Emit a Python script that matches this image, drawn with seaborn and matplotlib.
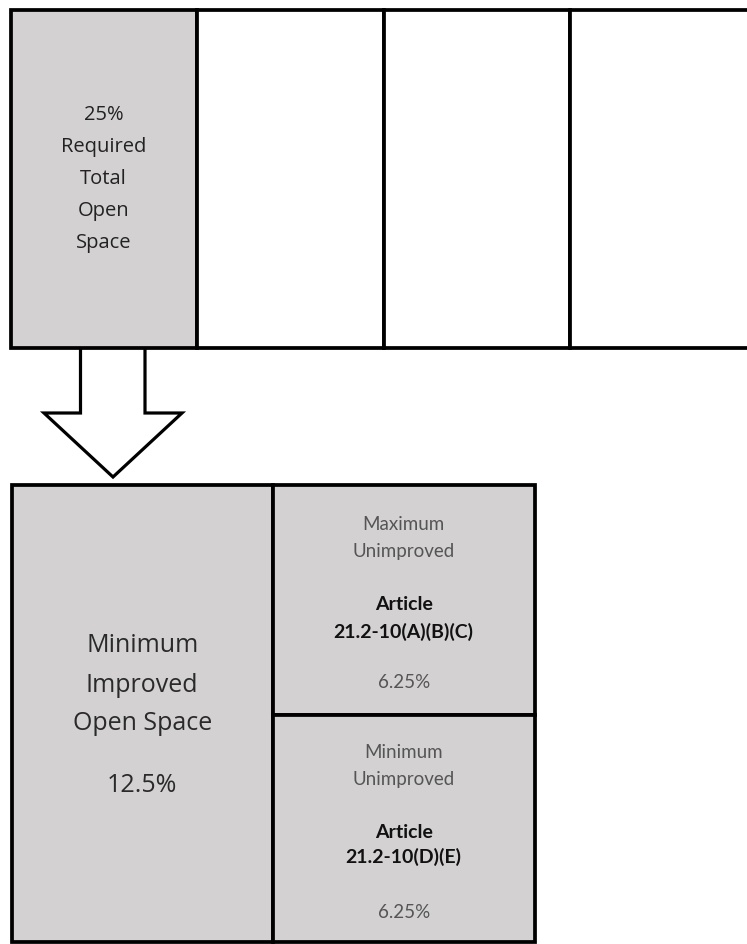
import seaborn as sns
import matplotlib.pyplot as plt
from matplotlib.patches import Polygon

# --- data: the open space split shown in the diagram ---
top_shares = [25, 25, 25, 25]                 # top row, four equal quarters of the lot
top_fill = [True, False, False, False]        # only the first quarter is the required open space
top_label = ["25%", "Required", "Total", "Open", "Space"]

improved_label = ["Minimum", "Improved", "Open Space"]
improved_value = "12.5%"

sub_titles = [["Maximum", "Unimproved"], ["Minimum", "Unimproved"]]
sub_articles = [["Article", "21.2-10(A)(B)(C)"], ["Article", "21.2-10(D)(E)"]]
sub_values = [6.25, 6.25]

sns.set_theme(style="white")
plt.rcParams['font.family'] = ['Open Sans', 'DejaVu Sans']

GREY = "#d3d1d2"
LW = 2.7

fig = plt.figure(figsize=(7.47, 9.44), dpi=100)
ax = fig.add_axes([0, 0, 1, 1])
ax.set_xlim(0, 747)
ax.set_ylim(944, 0)
ax.axis("off")

# top row: four quarters, width proportional to share
x0, top_y, top_h = 10.5, 9.5, 338
px_per_pct = 746 / 100
widths = [s * px_per_pct for s in top_shares]
lefts = [x0 + sum(widths[:i]) for i in range(len(widths))]
ax.bar(lefts, top_h, width=widths, bottom=top_y, align="edge",
       color=[GREY if f else "white" for f in top_fill],
       edgecolor="black", linewidth=LW, zorder=2)

cx = lefts[0] + widths[0] / 2
for i, t in enumerate(top_label):
    ax.text(cx, 115 + i * 32, t, ha="center", va="center", fontsize=14.5, color="#222")

# arrow
arrow = [(80.5, 348), (80.5, 413), (44, 413), (113, 477), (182, 413), (145, 413), (145, 348)]
ax.add_patch(Polygon(arrow, closed=False, facecolor="white", edgecolor="black",
                     linewidth=2.3, zorder=1))

# bottom block: improved half + two unimproved quarters
bx, by, bh = 11.5, 484.5, 457
half_w = 261.5
ax.bar([bx], bh, width=half_w, bottom=by, align="edge", color=GREY,
       edgecolor="black", linewidth=LW, zorder=2)
sub_h = [230.5, 226.5]
ax.bar([bx + half_w] * 2, sub_h, width=half_w, bottom=[by, by + sub_h[0]],
       align="edge", color=GREY, edgecolor="black", linewidth=LW, zorder=2)

lcx = bx + half_w / 2
for i, t in enumerate(improved_label):
    ax.text(lcx, [645, 685, 723][i], t, ha="center", va="center", fontsize=18, color="#2a2a2a")
ax.text(lcx, 785, improved_value, ha="center", va="center", fontsize=18, color="#2a2a2a")

rcx = bx + half_w * 1.5
title_y = [[525, 552], [753, 780]]
art_y = [[605, 632], [832, 857]]
val_y = [682, 912]
for k in range(2):
    for t, y in zip(sub_titles[k], title_y[k]):
        ax.text(rcx, y, t, ha="center", va="center", fontsize=13.5,
                family=["Lato", "DejaVu Sans"], color="#555")
    for t, y in zip(sub_articles[k], art_y[k]):
        ax.text(rcx, y, t, ha="center", va="center", fontsize=14, fontweight="bold",
                family=["Lato", "DejaVu Sans"], color="#111")
    ax.text(rcx, val_y[k], f"{sub_values[k]:.2f}%", ha="center", va="center", fontsize=13.5,
            family=["Lato", "DejaVu Sans"], color="#555")

fig.savefig("out.png", dpi=100, facecolor="white")
